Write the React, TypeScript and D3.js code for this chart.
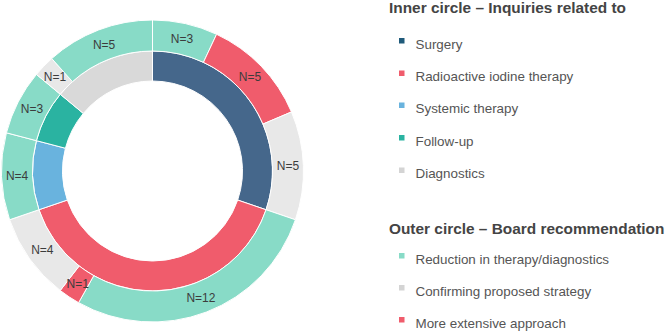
import React from "react";
import * as d3 from "d3";

const innerCategories = ["Surgery", "Radioactive iodine therapy", "Systemic therapy", "Follow-up", "Diagnostics"];
const innerValues = [13, 17, 4, 3, 6];
const innerColors = ["#45678b", "#f05c6c", "#69b3de", "#2ab3a1", "#d9d9d9"];
const innerLegendColors = ["#1f5a7a", "#f05c6c", "#69b3de", "#2ab3a1", "#d4d4d4"];

const outerCategories = ["Reduction in therapy/diagnostics", "Confirming proposed strategy", "More extensive approach"];
const outerColors = ["#88dbc7", "#e8e8e8", "#f05c6c"];
const outerLegendColors = ["#88dbc7", "#d4d4d4", "#f05c6c"];
// index into outerCategories for each outer segment, in drawing order
const outerTypes = [0, 2, 1, 0, 2, 1, 0, 0, 1, 0];
const outerValues = [3, 5, 5, 12, 1, 4, 4, 3, 1, 5];

const W = 666, H = 331;
const cx = 152.5, cy = 171;
const r0 = 90, r1 = 120, r2 = 151;

export default function App() {
  const pie = d3.pie<number>().sort(null).value((d) => d);
  const innerArcs = pie(innerValues);
  const outerArcs = pie(outerValues);
  const innerArc = d3.arc<d3.PieArcDatum<number>>().innerRadius(r0).outerRadius(r1);
  const outerArc = d3.arc<d3.PieArcDatum<number>>().innerRadius(r1).outerRadius(r2);
  const font = "Liberation Sans";

  const legendX = 389, markerX = 399, textX = 415.5;
  const innerTitleY = 13;
  const innerItemY = [48.5, 81, 113, 145.5, 178];
  const outerTitleY = 233.5;
  const outerItemY = [263.5, 295.5, 327.5];

  return (
    <svg width={W} height={H} style={{ position: "absolute", left: 0, top: 0, fontFamily: font }}>
      <rect width={W} height={H} fill="#ffffff" />
      <g transform={`translate(${cx},${cy})`}>
        {innerArcs.map((a, i) => (
          <path key={"i" + i} d={innerArc(a) || ""} fill={innerColors[i]} stroke="#fff" strokeWidth={1} />
        ))}
        {outerArcs.map((a, i) => (
          <path key={"o" + i} d={outerArc(a) || ""} fill={outerColors[outerTypes[i]]} stroke="#fff" strokeWidth={1} />
        ))}
        {outerArcs.map((a, i) => {
          const [x, y] = outerArc.centroid(a);
          return (
            <text key={"t" + i} x={x} y={y} dy="0.35em" textAnchor="middle" fontSize={12} fill="#3c3c3c" fontFamily={font}>
              N={outerValues[i]}
            </text>
          );
        })}
      </g>
      <text x={legendX} y={innerTitleY} fontSize={15.4} fontWeight="bold" fill="#444" fontFamily={font}>
        Inner circle – Inquiries related to
      </text>
      {innerCategories.map((c, i) => (
        <g key={"li" + i}>
          <rect x={markerX} y={innerItemY[i] - 10.5} width={5.5} height={5.5} fill={innerLegendColors[i]} />
          <text x={textX} y={innerItemY[i]} fontSize={13.4} fill="#555" fontFamily={font}>{c}</text>
        </g>
      ))}
      <text x={legendX} y={outerTitleY} fontSize={15.4} fontWeight="bold" fill="#444" fontFamily={font}>
        Outer circle – Board recommendation
      </text>
      {outerCategories.map((c, i) => (
        <g key={"lo" + i}>
          <rect x={markerX} y={outerItemY[i] - 10.5} width={5.5} height={5.5} fill={outerLegendColors[i]} />
          <text x={textX} y={outerItemY[i]} fontSize={13.4} fill="#555" fontFamily={font}>{c}</text>
        </g>
      ))}
    </svg>
  );
}
